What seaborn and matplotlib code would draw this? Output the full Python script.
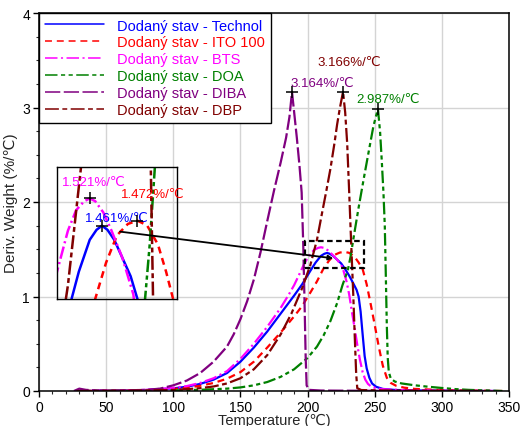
import matplotlib
matplotlib.use("Agg")
import matplotlib.pyplot as plt
import numpy as np
import pandas as pd
import seaborn as sns
from matplotlib.lines import Line2D
from matplotlib.patches import Rectangle, ConnectionPatch
from matplotlib.ticker import MultipleLocator

sns.set_style("ticks")
plt.rcParams["font.family"] = ["Liberation Sans", "DejaVu Sans"]
plt.rcParams["lines.scale_dashes"] = False

# ---- DTG curves (derivative weight, %/℃) ----
temp_technol = [28, 60, 80, 100, 110, 120, 130, 140, 150, 160, 170, 180, 190, 196, 202, 206, 210,
                212.5, 214.5, 216.5, 219, 222, 225, 228, 231, 234, 236.5, 238, 239.5, 241, 242.5,
                244, 246, 248, 251, 256, 265, 280, 300, 320, 340]
dtg_technol = [0.0, 0.004, 0.01, 0.028, 0.045, 0.075, 0.12, 0.19, 0.31, 0.46, 0.63, 0.82, 1.01, 1.13,
               1.27, 1.36, 1.43, 1.452, 1.461, 1.452, 1.43, 1.39, 1.35, 1.29, 1.22, 1.14, 1.07, 1.00,
               0.84, 0.60, 0.37, 0.24, 0.14, 0.08, 0.045, 0.022, 0.011, 0.006, 0.003, 0.001, 0.0]

temp_ito = [28, 60, 80, 100, 110, 120, 130, 140, 150, 160, 170, 180, 190, 196, 202, 207, 212, 216,
            220, 224, 227.5, 231, 235, 238, 241, 244, 247, 250, 253, 256, 259, 262, 266, 272, 280,
            300, 320, 345]
dtg_ito = [0.0, 0.004, 0.009, 0.022, 0.035, 0.055, 0.085, 0.13, 0.20, 0.31, 0.46, 0.62, 0.79, 0.90,
           1.04, 1.16, 1.30, 1.38, 1.44, 1.465, 1.472, 1.462, 1.42, 1.36, 1.29, 1.13, 0.92, 0.70,
           0.47, 0.27, 0.14, 0.085, 0.055, 0.035, 0.022, 0.01, 0.005, 0.0]

temp_bts = [28, 60, 80, 100, 110, 120, 130, 140, 150, 160, 170, 180, 186, 190, 194, 198, 202, 205,
            208, 210, 212, 215, 218, 222, 226, 229, 231, 233, 235, 237, 239, 241, 243, 245, 248,
            255, 270, 300, 340]
dtg_bts = [0.0, 0.005, 0.012, 0.033, 0.052, 0.085, 0.135, 0.21, 0.34, 0.50, 0.68, 0.88, 1.02, 1.12,
           1.24, 1.36, 1.45, 1.495, 1.515, 1.521, 1.515, 1.49, 1.45, 1.39, 1.31, 1.16, 1.02, 0.84,
           0.67, 0.49, 0.33, 0.20, 0.12, 0.075, 0.04, 0.02, 0.01, 0.004, 0.0]

temp_doa = [28, 60, 80, 100, 120, 140, 150, 160, 170, 180, 190, 200, 207, 212, 217, 222, 226, 230,
            232, 234, 238, 242, 246, 249, 252.4, 254, 255.2, 256.5, 257.5, 258.3, 259, 259.7,
            260.5, 262, 265, 270, 280, 290, 300, 310, 320, 335, 345]
dtg_doa = [0.0, 0.002, 0.004, 0.007, 0.013, 0.025, 0.038, 0.06, 0.095, 0.15, 0.23, 0.35, 0.47,
           0.59, 0.74, 0.93, 1.12, 1.28, 1.42, 1.60, 1.94, 2.26, 2.57, 2.80, 2.987, 2.74, 2.45,
           2.10, 1.75, 1.20, 0.70, 0.35, 0.20, 0.13, 0.10, 0.08, 0.06, 0.045, 0.032, 0.02, 0.012,
           0.005, 0.0]

temp_diba = [26, 30, 35, 45, 60, 80, 90, 100, 110, 120, 130, 140, 145, 150, 155, 160, 165, 170,
             175, 180, 184, 186.5, 188.4, 190, 192, 194, 195.6, 196.8, 197.8, 198.6, 199.3, 201,
             210, 230, 260, 300, 330]
dtg_diba = [0.0, 0.025, 0.012, 0.005, 0.005, 0.012, 0.025, 0.06, 0.11, 0.19, 0.31, 0.47, 0.60,
            0.76, 0.95, 1.18, 1.47, 1.80, 2.12, 2.42, 2.68, 2.90, 3.164, 2.95, 2.68, 2.38, 2.10,
            1.54, 0.90, 0.35, 0.06, 0.012, 0.005, 0.003, 0.002, 0.001, 0.0]

temp_dbp = [28, 60, 80, 100, 110, 120, 130, 140, 150, 160, 170, 180, 188, 196, 202, 207, 211, 214,
            217, 220, 222, 224, 226.4, 228, 229.5, 231, 232.5, 234, 235.2, 236.2, 237, 240, 260,
            300, 330]
dtg_dbp = [0.0, 0.003, 0.006, 0.012, 0.02, 0.03, 0.048, 0.08, 0.135, 0.23, 0.38, 0.60, 0.82, 1.09,
           1.33, 1.60, 1.90, 2.12, 2.35, 2.62, 2.82, 2.99, 3.166, 2.95, 2.62, 2.10, 1.55, 1.03,
           0.55, 0.18, 0.03, 0.01, 0.005, 0.002, 0.0]

series_names = ["Dodaný stav - Technol", "Dodaný stav - ITO 100", "Dodaný stav - BTS",
                "Dodaný stav - DOA", "Dodaný stav - DIBA", "Dodaný stav - DBP"]
series_temps = [temp_technol, temp_ito, temp_bts, temp_doa, temp_diba, temp_dbp]
series_dtg = [dtg_technol, dtg_ito, dtg_bts, dtg_doa, dtg_diba, dtg_dbp]

colors = ["#0000ff", "#ff0000", "#ff00ff", "#008000", "#800080", "#800000"]
styles = ["-", (0, (5, 3.5)), (0, (9, 2.5, 1.5, 2.5)), (0, (9, 2.5, 3, 2.5, 3, 2.5)),
          (0, (11, 2.5)), (0, (10, 2.5, 3.5, 2.5))]

df = pd.concat(
    [pd.DataFrame({"series": n, "temp": t, "dtg": d})
     for n, t, d in zip(series_names, series_temps, series_dtg)],
    ignore_index=True,
)

fig = plt.figure(figsize=(5.21, 4.27), dpi=100)
ax = fig.add_axes([39 / 521, 35 / 427, 470 / 521, 378 / 427])

for name, col, ls in zip(series_names, colors, styles):
    sns.lineplot(data=df[df["series"] == name], x="temp", y="dtg", ax=ax, color=col,
                 linestyle=ls, lw=1.6, estimator=None, sort=False, legend=False)

ax.set_xlim(0, 350)
ax.set_ylim(0, 4)
ax.xaxis.set_major_locator(MultipleLocator(50))
ax.xaxis.set_minor_locator(MultipleLocator(10))
ax.yaxis.set_major_locator(MultipleLocator(1))
ax.yaxis.set_minor_locator(MultipleLocator(0.25))
ax.grid(True, which="major", color="#d4d4d4", lw=1.0)
ax.tick_params(which="major", direction="out", length=4, width=1, labelsize=10, colors="black",
               pad=2.5)
ax.tick_params(which="minor", direction="out", length=2.5, width=0.8)
for sp in ax.spines.values():
    sp.set_visible(True)
    sp.set_color("black")
    sp.set_linewidth(1.1)
ax.set_xlabel("Temperature (℃)", fontsize=10.5, labelpad=-1)
ax.set_ylabel("Deriv. Weight (%/℃)", fontsize=11, labelpad=3)

# peak markers and labels on the main axes
main_peaks = {"Dodaný stav - DIBA": (187.6, 3.26), "Dodaný stav - DBP": (207.7, 3.48),
              "Dodaný stav - DOA": (236.0, 3.09)}
for name, col in zip(series_names, colors):
    if name in main_peaks:
        sub = df[df["series"] == name]
        i = sub["dtg"].idxmax()
        px, py = sub.loc[i, "temp"], sub.loc[i, "dtg"]
        ax.plot(px, py, marker="+", color="black", ms=9, mew=1.1, zorder=5)
        tx, ty = main_peaks[name]
        ax.text(tx, ty, f"{py:.3f}%/℃", color=col, fontsize=9.5, ha="left", va="center")

# zoom window drawn on the main axes
x0, x1, y0, y1 = 198, 242, 1.30, 1.59
ax.add_patch(Rectangle((x0, y0), x1 - x0, y1 - y0, fill=False, ec="black", lw=1.6,
                       ls=(0, (4, 2.5)), zorder=6))

legend_handles = [Line2D([], [], color=c, ls=s, lw=1.1) for c, s in zip(colors, styles)]
leg = ax.legend(legend_handles, series_names, loc="upper left", bbox_to_anchor=(0, 1),
                borderaxespad=0, frameon=True, fancybox=False, edgecolor="black", framealpha=1,
                fontsize=10.5, handlelength=4.1, handletextpad=0.9, labelspacing=0.2,
                borderpad=0.38, labelcolor="linecolor")
leg.get_frame().set_linewidth(1.0)

# inset with the enlarged peak region
axins = fig.add_axes([57 / 521, (427 - 300) / 427, 120 / 521, 132 / 427], facecolor="none")
for name, col, ls in zip(series_names, colors, styles):
    sns.lineplot(data=df[df["series"] == name], x="temp", y="dtg", ax=axins, color=col,
                 linestyle=ls, lw=1.8, estimator=None, sort=False, legend=False)
axins.set_xlim(x0, x1)
axins.set_ylim(y0, y1)
axins.set_xticks([])
axins.set_yticks([])
axins.set_xlabel("")
axins.set_ylabel("")
for sp in axins.spines.values():
    sp.set_visible(True)
    sp.set_color("black")
    sp.set_linewidth(1.0)

inset_peaks = {"Dodaný stav - BTS": (199.8, 1.557), "Dodaný stav - Technol": (208.3, 1.478),
               "Dodaný stav - ITO 100": (221.5, 1.531)}
for name, col in zip(series_names, colors):
    if name in inset_peaks:
        sub = df[df["series"] == name]
        i = sub["dtg"].idxmax()
        px, py = sub.loc[i, "temp"], sub.loc[i, "dtg"]
        axins.plot(px, py, marker="+", color="black", ms=9, mew=1.1, zorder=5)
        tx, ty = inset_peaks[name]
        axins.text(tx, ty, f"{py:.3f}%/℃", color=col, fontsize=9.5, ha="left", va="center",
                   clip_on=False)

con = ConnectionPatch(xyA=(221.1, 1.448), coordsA=axins.transData,
                      xyB=(219.1, 1.404), coordsB=ax.transData,
                      arrowstyle="-|>", mutation_scale=7, lw=1.3, color="black", zorder=7)
fig.add_artist(con)

fig.savefig("out.png", dpi=100)
